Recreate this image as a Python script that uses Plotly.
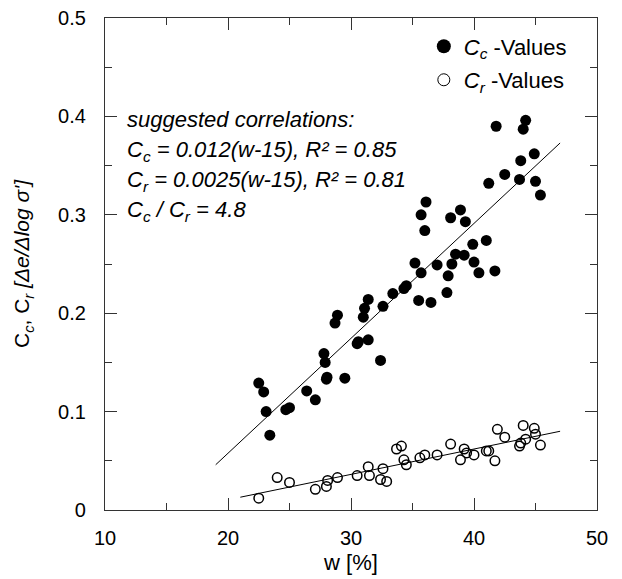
import plotly.graph_objects as go

# ---- data ----
w_cc = [22.5, 22.9, 23.1, 23.4, 24.7, 25.0, 26.4, 27.1, 27.8, 27.9, 28.0, 28.05, 28.7, 28.9, 29.5,
        30.5, 30.6, 31.0, 31.1, 31.4, 31.4, 32.4, 32.6, 33.4, 34.3, 34.5, 35.2, 35.5, 35.7, 35.7,
        36.0, 36.1, 36.5, 37.0, 37.8, 37.9, 38.1, 38.2, 38.5, 38.9, 39.2, 39.3, 39.9, 40.0, 40.4,
        41.0, 41.2, 41.7, 41.8, 42.5, 43.7, 43.8, 44.0, 44.2, 44.9, 45.0, 45.4]
cc = [0.129, 0.120, 0.100, 0.076, 0.102, 0.104, 0.121, 0.112, 0.159, 0.150, 0.133, 0.135, 0.190, 0.198, 0.134,
      0.169, 0.171, 0.196, 0.205, 0.214, 0.173, 0.152, 0.207, 0.220, 0.225, 0.228, 0.251, 0.213, 0.241, 0.300,
      0.284, 0.313, 0.211, 0.249, 0.221, 0.238, 0.297, 0.250, 0.260, 0.305, 0.259, 0.293, 0.270, 0.252, 0.241,
      0.274, 0.332, 0.243, 0.390, 0.341, 0.336, 0.355, 0.387, 0.396, 0.362, 0.334, 0.320]

w_cr = [22.5, 24.0, 25.0, 27.1, 28.0, 28.1, 28.9, 30.5, 31.4, 31.5, 32.4, 32.6, 32.9, 33.7, 34.1,
        34.3, 34.5, 35.6, 36.0, 37.0, 38.1, 38.9, 39.2, 39.4, 40.0, 41.0, 41.2, 41.7, 41.9, 42.5,
        43.7, 43.8, 44.0, 44.2, 44.9, 45.0, 45.4]
cr = [0.012, 0.033, 0.028, 0.021, 0.024, 0.030, 0.033, 0.035, 0.044, 0.035, 0.031, 0.042, 0.029, 0.062, 0.065,
      0.051, 0.046, 0.053, 0.056, 0.056, 0.067, 0.051, 0.062, 0.058, 0.056, 0.060, 0.060, 0.050, 0.082, 0.074,
      0.065, 0.068, 0.086, 0.072, 0.083, 0.077, 0.066]

fit_w_cc = [19.0, 47.0]
fit_cc = [0.046, 0.373]
fit_w_cr = [21.0, 47.0]
fit_cr = [0.013, 0.080]

x_ticks = [10, 20, 30, 40, 50]
y_ticks = [0, 0.1, 0.2, 0.3, 0.4, 0.5]
y_tick_text = ["0", "0.1", "0.2", "0.3", "0.4", "0.5"]

FONT = "Liberation Sans, Arial, sans-serif"
AX = "#333333"

fig = go.Figure()

fig.add_trace(go.Scatter(x=fit_w_cc, y=fit_cc, mode="lines", line=dict(color="black", width=1),
                         showlegend=False, hoverinfo="skip"))
fig.add_trace(go.Scatter(x=fit_w_cr, y=fit_cr, mode="lines", line=dict(color="black", width=1),
                         showlegend=False, hoverinfo="skip"))
fig.add_trace(go.Scatter(x=w_cc, y=cc, mode="markers", showlegend=False,
                         marker=dict(symbol="circle", size=11, color="black", line=dict(width=0))))
fig.add_trace(go.Scatter(x=w_cr, y=cr, mode="markers", showlegend=False,
                         marker=dict(symbol="circle-open", size=9.5, color="black", line=dict(width=1.5))))

# legend entries
fig.add_trace(go.Scatter(x=[None], y=[None], mode="markers", legendgroup="a",
                         name="<i>C<sub>c</sub></i> -Values",
                         marker=dict(symbol="circle", size=14, color="black")))
fig.add_trace(go.Scatter(x=[None], y=[None], mode="markers", legendgroup="b",
                         name="<i>C<sub>r</sub></i> -Values",
                         marker=dict(symbol="circle-open", size=12, color="black", line=dict(width=1))))

lines = [
    "<i>suggested correlations:</i>",
    "<i>C<sub>c</sub> = 0.012(w-15), R² = 0.85</i>",
    "<i>C<sub>r</sub> = 0.0025(w-15), R² = 0.81</i>",
    "<i>C<sub>c</sub> / C<sub>r</sub> = 4.8</i>",
]
ys = [0.7947, 0.7297, 0.6687, 0.6077]
for t, yy in zip(lines, ys):
    fig.add_annotation(text=t, xref="paper", yref="paper", x=0.04, y=yy,
                       xanchor="left", yanchor="middle", showarrow=False,
                       font=dict(family=FONT, size=22, color="black"))

# page body has an 8px margin: figure is drawn at (8, 8) inside the 622x579 window
fig.update_layout(
    width=614, height=571,
    margin=dict(l=97, r=25, t=10, b=69, autoexpand=False),
    paper_bgcolor="white", plot_bgcolor="white",
    font=dict(family=FONT, size=20, color="black"),
    legend=dict(x=0.648, y=0.985, xanchor="left", yanchor="top",
                traceorder="grouped", tracegroupgap=2,
                bgcolor="rgba(0,0,0,0)", font=dict(family=FONT, size=22, color="black")),
)

fig.update_xaxes(range=[10, 50], tickvals=x_ticks, ticks="inside", ticklen=12, tickwidth=1,
                 tickcolor=AX, showline=True, linecolor=AX, linewidth=1.3, mirror="ticks",
                 showgrid=False, zeroline=False, ticklabelstandoff=10, automargin=False,
                 ticklabeloverflow="allow",
                 minor=dict(dtick=5, tick0=10, ticks="inside", ticklen=7, tickcolor=AX, showgrid=False),
                 title=dict(text="w [%]", standoff=6, font=dict(size=22)),
                 tickfont=dict(size=20))
fig.update_yaxes(range=[0, 0.5], tickvals=y_ticks, ticktext=y_tick_text, ticks="inside", ticklen=12,
                 tickwidth=1, tickcolor=AX, showline=True, linecolor=AX, linewidth=1.3, mirror="ticks",
                 showgrid=False, zeroline=False, ticklabelstandoff=14, automargin=False,
                 ticklabeloverflow="allow",
                 minor=dict(dtick=0.05, tick0=0, ticks="inside", ticklen=7, tickcolor=AX, showgrid=False),
                 title=dict(text="C<sub><i>c</i></sub>, C<sub><i>r</i></sub> <i>[Δe/Δlog σ']</i>",
                            standoff=22, font=dict(size=21)),
                 tickfont=dict(size=20))

fig.write_html("out.html")
